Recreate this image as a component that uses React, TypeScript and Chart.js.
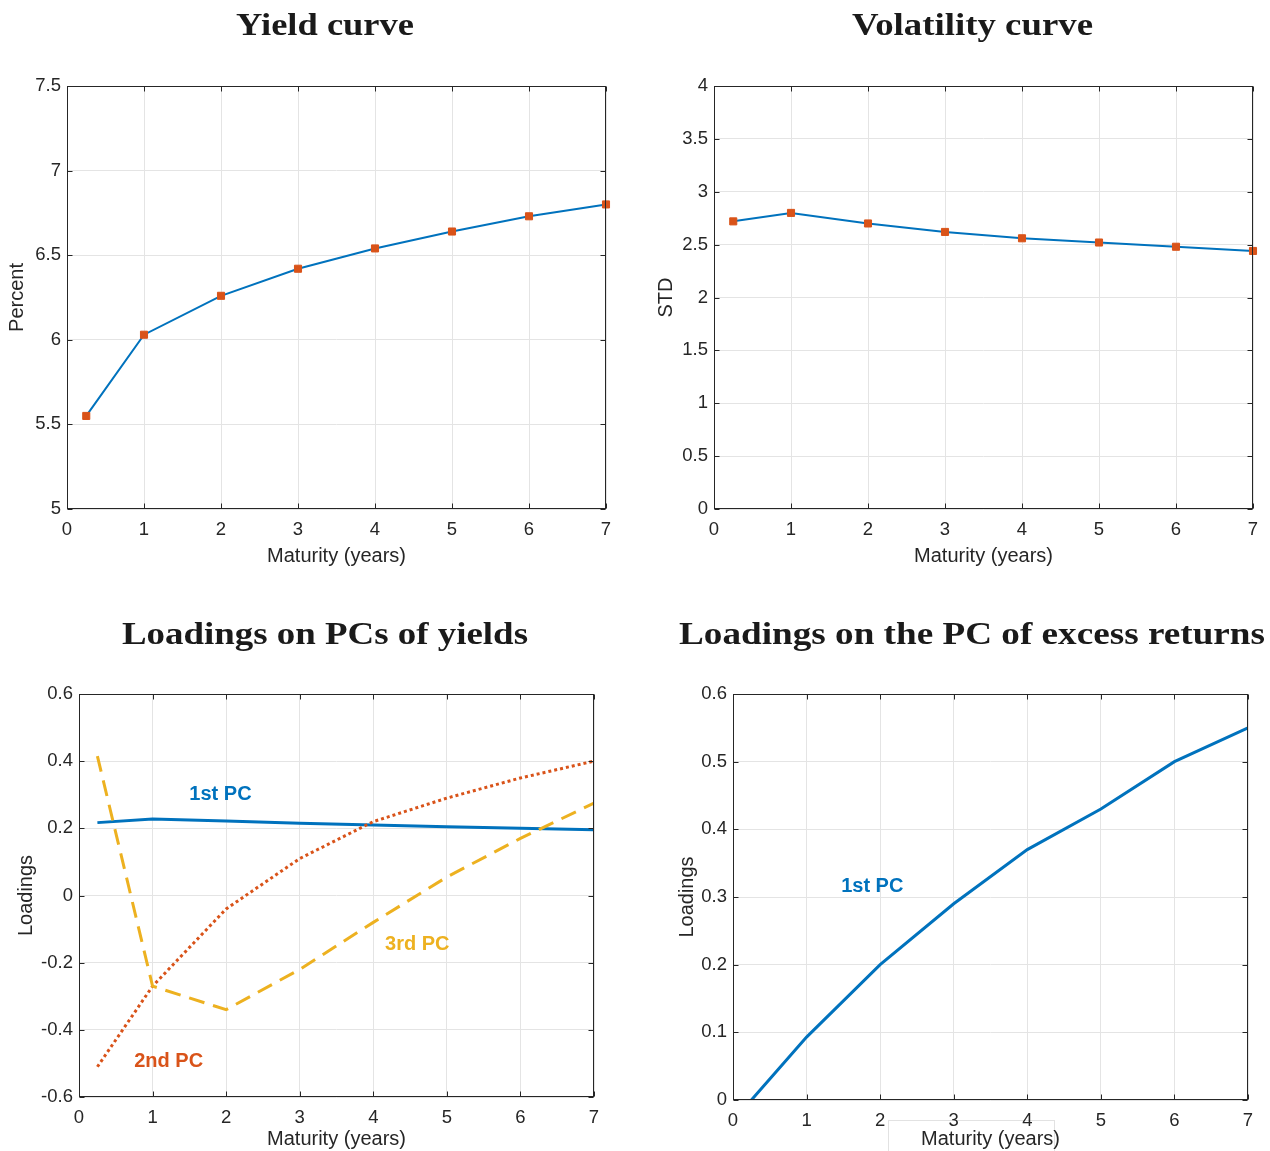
import React, { useEffect, useRef } from 'react';
import { Chart, registerables } from 'chart.js';

Chart.register(...registerables);

// ---------- data ----------
const MATURITIES = [0.25, 1, 2, 3, 4, 5, 6, 7];
const YIELDS = [5.55, 6.03, 6.26, 6.42, 6.54, 6.64, 6.73, 6.8];
const VOLATILITY = [2.72, 2.8, 2.7, 2.62, 2.56, 2.52, 2.48, 2.44];
const PC1_YIELDS = [0.217, 0.228, 0.222, 0.215, 0.21, 0.205, 0.2, 0.196];
const PC2_YIELDS = [-0.51, -0.27, -0.04, 0.11, 0.22, 0.29, 0.35, 0.4];
const PC3_YIELDS = [0.415, -0.27, -0.34, -0.22, -0.08, 0.055, 0.17, 0.275];
const PC1_RETURNS = [0.0, 0.093, 0.2, 0.29, 0.37, 0.43, 0.5, 0.55];

const X_TICKS = [0, 1, 2, 3, 4, 5, 6, 7];
const YIELD_TICKS = [5, 5.5, 6, 6.5, 7, 7.5];
const VOL_TICKS = [0, 0.5, 1, 1.5, 2, 2.5, 3, 3.5, 4];
const PCY_TICKS = [-0.6, -0.4, -0.2, 0, 0.2, 0.4, 0.6];
const PCR_TICKS = [0, 0.1, 0.2, 0.3, 0.4, 0.5, 0.6];

const BLUE = '#0072BD';
const RED = '#D95319';
const YELLOW = '#EDB120';
const TXT = '#262626';
const GRID = '#e4e4e4';

const SANS = '"Liberation Sans", Arial, Helvetica, sans-serif';
const SERIF = '"Liberation Serif", "Times New Roman", serif';

Chart.defaults.font.family = SANS;

const pts = (ys: number[]) => MATURITIES.map((x, i) => ({ x, y: ys[i] }));

type Label = { text: string; x: number; y: number; color: string };
type Panel = {
  key: string;
  left: number;
  top: number;
  w: number;
  h: number;
  area: { left: number; right: number; top: number; bottom: number };
  title: string;
  titleCx: number;
  titleBase: number;
  titleW: number;
  yTitle: string;
  yTitleCx: number;
  xTitleCy: number;
  yMin: number;
  yMax: number;
  yTicks: number[];
  datasets: any[];
  labels: Label[];
  labelBox?: { x1: number; y1: number; x2: number; y2: number };
};

const markerLine = (ys: number[]) => ({
  data: pts(ys),
  borderColor: BLUE,
  borderWidth: 2,
  pointStyle: 'rect',
  pointRadius: 5,
  pointBackgroundColor: RED,
  pointBorderColor: RED,
  pointBorderWidth: 1,
  tension: 0,
  clip: false,
});

const PANELS: Panel[] = [
  {
    key: 'yield',
    left: 0, top: 0, w: 635, h: 580,
    area: { left: 67, right: 606, top: 86, bottom: 509 },
    title: 'Yield curve', titleCx: 325, titleBase: 35, titleW: 178,
    yTitle: 'Percent', yTitleCx: 17, xTitleCy: 556,
    yMin: 5, yMax: 7.5, yTicks: YIELD_TICKS,
    datasets: [markerLine(YIELDS)],
    labels: [],
  },
  {
    key: 'vol',
    left: 635, top: 0, w: 635, h: 580,
    area: { left: 79, right: 618, top: 86, bottom: 509 },
    title: 'Volatility curve', titleCx: 337.5, titleBase: 35, titleW: 241,
    yTitle: 'STD', yTitleCx: 31, xTitleCy: 556,
    yMin: 0, yMax: 4, yTicks: VOL_TICKS,
    datasets: [markerLine(VOLATILITY)],
    labels: [],
  },
  {
    key: 'pcy',
    left: 0, top: 580, w: 635, h: 571,
    area: { left: 79, right: 594, top: 114, bottom: 517 },
    title: 'Loadings on PCs of yields', titleCx: 325, titleBase: 64, titleW: 406,
    yTitle: 'Loadings', yTitleCx: 26, xTitleCy: 559,
    yMin: -0.6, yMax: 0.6, yTicks: PCY_TICKS,
    datasets: [
      { data: pts(PC1_YIELDS), borderColor: BLUE, borderWidth: 3, pointRadius: 0, tension: 0, order: 2 },
      { data: pts(PC2_YIELDS), borderColor: RED, borderWidth: 3, borderDash: [3, 3], pointRadius: 0, tension: 0, order: 1 },
      { data: pts(PC3_YIELDS), borderColor: YELLOW, borderWidth: 3, borderDash: [16, 9], pointRadius: 0, tension: 0, order: 0 },
    ],
    labels: [
      { text: '1st PC', x: 1.5, y: 0.3, color: BLUE },
      { text: '2nd PC', x: 0.75, y: -0.495, color: RED },
      { text: '3rd PC', x: 4.16, y: -0.145, color: YELLOW },
    ],
  },
  {
    key: 'pcr',
    left: 635, top: 580, w: 635, h: 571,
    area: { left: 98, right: 613, top: 114, bottom: 520 },
    title: 'Loadings on the PC of excess returns', titleCx: 337, titleBase: 64, titleW: 586,
    yTitle: 'Loadings', yTitleCx: 52, xTitleCy: 559,
    yMin: 0, yMax: 0.6, yTicks: PCR_TICKS,
    datasets: [
      { data: pts(PC1_RETURNS), borderColor: BLUE, borderWidth: 3, pointRadius: 0, tension: 0 },
    ],
    labels: [{ text: '1st PC', x: 1.47, y: 0.316, color: BLUE }],
    labelBox: { x1: 253, y1: 540, x2: 419, y2: 572 },
  },
];

function makePlugin(p: Panel) {
  return {
    id: 'matlab_' + p.key,
    beforeDraw(chart: any) {
      if (!p.labelBox) return;
      const ctx = chart.ctx;
      const b = p.labelBox;
      ctx.save();
      ctx.fillStyle = '#ffffff';
      ctx.fillRect(b.x1, b.y1, b.x2 - b.x1, b.y2 - b.y1);
      ctx.strokeStyle = '#e2e2e2';
      ctx.lineWidth = 1;
      ctx.strokeRect(b.x1 + 0.5, b.y1 + 0.5, b.x2 - b.x1, b.y2 - b.y1);
      ctx.restore();
    },
    afterDraw(chart: any) {
      const ctx = chart.ctx;
      const { left, right, top, bottom } = chart.chartArea;
      const xs = chart.scales.x;
      const ys = chart.scales.y;
      ctx.save();

      // text annotations
      ctx.font = `bold 20px ${SANS}`;
      ctx.textAlign = 'left';
      ctx.textBaseline = 'middle';
      p.labels.forEach((l) => {
        ctx.fillStyle = l.color;
        ctx.fillText(l.text, xs.getPixelForValue(l.x), ys.getPixelForValue(l.y));
      });

      // box
      const L = Math.round(left) + 0.5;
      const R = Math.round(right) - 0.5;
      const T = Math.round(top) + 0.5;
      const B = Math.round(bottom) - 0.5;
      ctx.strokeStyle = TXT;
      ctx.lineWidth = 1;
      ctx.strokeRect(L, T, R - L, B - T);

      // inward ticks
      const TL = 5;
      ctx.beginPath();
      xs.ticks.forEach((t: any) => {
        const px = Math.round(xs.getPixelForValue(t.value)) + 0.5;
        ctx.moveTo(px, B);
        ctx.lineTo(px, B - TL);
        ctx.moveTo(px, T);
        ctx.lineTo(px, T + TL);
      });
      ys.ticks.forEach((t: any) => {
        const py = Math.round(ys.getPixelForValue(t.value)) + 0.5;
        ctx.moveTo(L, py);
        ctx.lineTo(L + TL, py);
        ctx.moveTo(R, py);
        ctx.lineTo(R - TL, py);
      });
      ctx.stroke();

      // title (LaTeX-like bold extended serif): stretch horizontally to width
      ctx.font = `bold 32px ${SERIF}`;
      ctx.fillStyle = '#1a1a1a';
      ctx.textBaseline = 'alphabetic';
      ctx.textAlign = 'center';
      const w0 = ctx.measureText(p.title).width;
      const sx = p.titleW / w0;
      ctx.translate(p.titleCx, p.titleBase);
      ctx.scale(sx, 1);
      ctx.fillText(p.title, 0, 0);
      ctx.restore();
    },
  };
}

function ChartPanel({ p }: { p: Panel }) {
  const ref = useRef<HTMLCanvasElement | null>(null);
  useEffect(() => {
    if (!ref.current) return;
    const lh = 24; // 20px * 1.2
    const chart = new Chart(ref.current, {
      type: 'line',
      data: { datasets: p.datasets },
      options: {
        animation: false,
        responsive: false,
        maintainAspectRatio: false,
        devicePixelRatio: 1,
        layout: {
          padding: { top: p.area.top, left: 0, right: p.w - p.area.right, bottom: 0 },
        },
        plugins: {
          legend: { display: false },
          tooltip: { enabled: false },
          title: { display: false },
        },
        scales: {
          x: {
            type: 'linear',
            min: 0,
            max: 7,
            afterBuildTicks: (s: any) => {
              s.ticks = X_TICKS.map((v) => ({ value: v }));
            },
            afterFit: (s: any) => {
              s.height = p.h - p.area.bottom;
            },
            grid: { color: GRID, lineWidth: 1, drawTicks: false },
            border: { display: false },
            ticks: {
              color: TXT,
              font: { size: 18.5 },
              padding: 10,
              maxRotation: 0,
              autoSkip: false,
              callback: (v: any) => String(v),
            },
            title: {
              display: true,
              text: 'Maturity (years)',
              color: TXT,
              font: { size: 20 },
              padding: { top: 0, bottom: p.h - p.xTitleCy - lh / 2 },
            },
          },
          y: {
            type: 'linear',
            min: p.yMin,
            max: p.yMax,
            afterBuildTicks: (s: any) => {
              s.ticks = p.yTicks.map((v) => ({ value: v }));
            },
            afterFit: (s: any) => {
              s.width = p.area.left;
            },
            grid: { color: GRID, lineWidth: 1, drawTicks: false },
            border: { display: false },
            ticks: {
              color: TXT,
              font: { size: 18.5 },
              padding: 6,
              autoSkip: false,
              callback: (v: any) => String(v),
            },
            title: {
              display: true,
              text: p.yTitle,
              color: TXT,
              font: { size: 20 },
              padding: { top: p.yTitleCx - lh / 2, bottom: 0 },
            },
          },
        },
      },
      plugins: [makePlugin(p)],
    } as any);
    return () => chart.destroy();
  }, [p]);
  return (
    <canvas
      ref={ref}
      width={p.w}
      height={p.h}
      style={{ position: 'absolute', left: p.left, top: p.top, width: p.w, height: p.h }}
    />
  );
}

export default function App() {
  return (
    <div
      style={{
        position: 'absolute',
        left: 0,
        top: 0,
        width: 1270,
        height: 1151,
        background: '#ffffff',
        overflow: 'hidden',
      }}
    >
      {PANELS.map((p) => (
        <ChartPanel key={p.key} p={p} />
      ))}
    </div>
  );
}
